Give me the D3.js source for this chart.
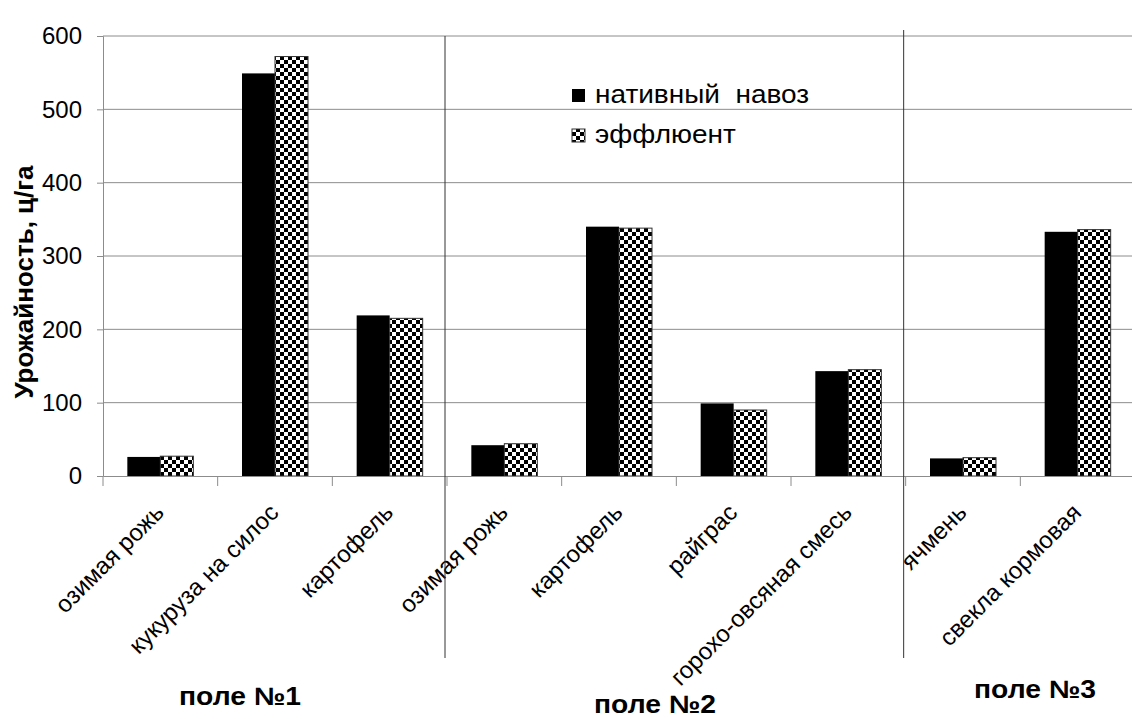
<!DOCTYPE html>
<html><head><meta charset="utf-8">
<script src="https://cdn.jsdelivr.net/npm/d3@7"></script>
<style>body{margin:0;background:#fff}svg{display:block}text{font-family:"Liberation Sans",Arial,sans-serif}</style>
</head><body><svg id="c" width="1132" height="719"></svg>
<script>
const categories = ["озимая рожь","кукуруза на силос","картофель","озимая рожь","картофель","райграс","горохо-овсяная смесь","ячмень","свекла кормовая"];
const seriesNames = ["нативный  навоз","эффлюент"];
const native = [26,549,219,42,340,99,143,24,333];
const effluent = [27,572,215,44,338,90,145,25,336];
const yTicks = [0,100,200,300,400,500,600];
const fields = ["поле №1","поле №2","поле №3"];
const fieldBoundaries = [3,7];

const svg = d3.select("#c");
const defs = svg.append("defs");
const pat = defs.append("pattern").attr("id","chk").attr("patternUnits","userSpaceOnUse").attr("width",8).attr("height",8);
pat.append("rect").attr("width",8).attr("height",8).attr("fill","#fff");
pat.append("rect").attr("width",4).attr("height",4).attr("fill","#000");
pat.append("rect").attr("x",4).attr("y",4).attr("width",4).attr("height",4).attr("fill","#000");

const x0 = 103, x1 = 1135, yTop = 36, yBot = 476;
const x = d3.scaleBand().domain(d3.range(categories.length)).range([x0,x1]).paddingInner(0).paddingOuter(0);
const y = d3.scaleLinear().domain([0,600]).range([yBot,yTop]);
const FONT = "Liberation Sans, Arial, sans-serif";

// gridlines
svg.append("g").selectAll("line").data(yTicks.filter(d=>d>0)).join("line")
  .attr("x1",x0).attr("x2",1132).attr("y1",d=>y(d)).attr("y2",d=>y(d))
  .attr("stroke","#8c8c8c").attr("stroke-width",1);

// y axis
const yAxis = d3.axisLeft(y).tickValues(yTicks).tickSize(6).tickPadding(15).tickFormat(d3.format("d"));
const gy = svg.append("g").attr("transform",`translate(${x0},0)`).call(yAxis);
gy.select(".domain").attr("stroke","#8c8c8c");
gy.selectAll(".tick line").attr("stroke","#8c8c8c");
gy.selectAll(".tick text").attr("font-size",24).attr("fill","#000").style("font-family",FONT);

// bars
const bw = 33;
const gb = svg.append("g");
categories.forEach((c,i)=>{
  const cx = x(i) + x.bandwidth()/2;
  gb.append("rect").attr("x",cx-bw).attr("width",bw).attr("y",y(native[i])).attr("height",y(0)-y(native[i])).attr("fill","#000");
  gb.append("rect").attr("x",cx).attr("width",bw).attr("y",y(effluent[i])).attr("height",y(0)-y(effluent[i]))
    .attr("fill","url(#chk)").attr("stroke","#333").attr("stroke-width",1);
});

// x axis
const xAxis = d3.axisBottom(x).tickSize(0).tickFormat(i=>categories[i]);
const gx = svg.append("g").attr("transform",`translate(0,${yBot})`).call(xAxis);
gx.select(".domain").attr("stroke","#8c8c8c");
gx.selectAll(".tick text").attr("font-size",24).attr("fill","#000")
  .attr("text-anchor","end").attr("dy",0).attr("y",0)
  .attr("transform","translate(5,38) rotate(-45)")
  .style("font-family",FONT);
// boundary ticks
svg.append("g").selectAll("line").data(d3.range(categories.length+1)).join("line")
  .attr("x1",i=>x0+i*x.step()).attr("x2",i=>x0+i*x.step()).attr("y1",yBot).attr("y2",yBot+10)
  .attr("stroke","#8c8c8c");

// field separators
svg.append("g").selectAll("line").data(fieldBoundaries).join("line")
  .attr("x1",i=>x0+i*x.step()-2).attr("x2",i=>x0+i*x.step()-2).attr("y1",i=>i===3?36:30).attr("y2",658)
  .attr("stroke","#333").attr("stroke-width",1);

// field labels
const fieldY = [705,713,698];
const fieldCx = [240,655,1035];
svg.append("g").selectAll("text").data(fields).join("text")
  .attr("transform",(d,i)=>`translate(${fieldCx[i]},${fieldY[i]}) scale(1.13,1)`).attr("text-anchor","middle")
  .attr("font-size",25).attr("font-weight","bold").text(d=>d);

// y title
svg.append("text").attr("transform","translate(33,282) rotate(-90)").attr("text-anchor","middle")
  .attr("font-size",26).attr("font-weight","bold").text("Урожайность, ц/га");

// legend
const lg = svg.append("g");
seriesNames.forEach((s,i)=>{
  lg.append("rect").attr("x",572).attr("y",89+i*40).attr("width",13).attr("height",13)
    .attr("fill",i===0?"#000":"url(#chk)").attr("stroke",i===0?"none":"#333");
  lg.append("text").attr("transform",`translate(595,${103+i*40}) scale(1.12,1)`).attr("font-size",25).style("white-space","pre").text(s);
});
</script></body></html>
